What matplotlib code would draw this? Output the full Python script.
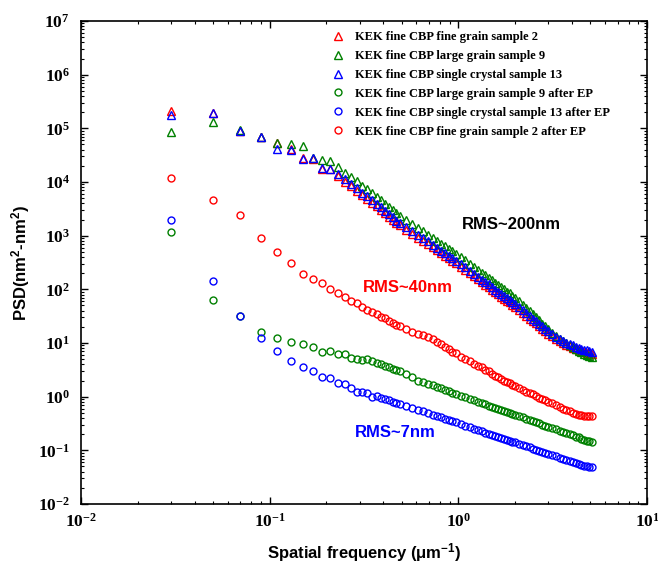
import math

import matplotlib
matplotlib.use("Agg")
import matplotlib.pyplot as plt
from matplotlib.ticker import LogLocator, FuncFormatter, NullFormatter

plt.rcParams["mathtext.fontset"] = "custom"
plt.rcParams["mathtext.bf"] = "Liberation Serif:bold"
plt.rcParams["mathtext.rm"] = "Liberation Serif"
plt.rcParams["mathtext.default"] = "regular"

# Spatial frequency (1/um), shared by all series
freq = [
    0.03, 0.05, 0.07, 0.09, 0.11, 0.13, 0.15, 0.17, 0.19, 0.21, 0.23, 0.25,
    0.27, 0.29, 0.31, 0.33, 0.35, 0.37, 0.39, 0.41, 0.43, 0.45, 0.47, 0.49,
    0.53, 0.57, 0.61, 0.65, 0.69, 0.73, 0.77, 0.81, 0.85, 0.89, 0.93, 0.97,
    1.03, 1.09, 1.15, 1.21, 1.27, 1.33, 1.39, 1.45, 1.51, 1.57, 1.63, 1.69,
    1.75, 1.81, 1.87, 1.93, 1.99,
    2.09, 2.19, 2.29, 2.39, 2.49, 2.59, 2.69, 2.79, 2.89, 2.99,
    3.14, 3.29, 3.44, 3.59, 3.74, 3.89, 4.04, 4.19, 4.34, 4.49, 4.64, 4.79,
    4.94, 5.09,
]

# PSD (nm^2-nm^2) before EP
fine_grain_2 = [
    214000, 195000, 90000, 69000, 52500, 41700, 28000, 26300, 17800, 17400, 13000, 10000,
    8400, 6900, 5700, 4800, 4100, 3500, 3050, 2600, 2250, 1950, 1700, 1560,
    1300, 1080, 920, 800, 700, 610, 540, 470, 425, 380, 340, 305,
    265, 232, 198, 175, 153, 136, 122, 111, 99, 89, 81, 73,
    67, 61, 57, 51, 47.5,
    41.5, 36.5, 32, 28.5, 25.5, 23.2, 20.7, 18.4, 16.8, 15.0,
    13.4, 12.0, 10.9, 10.0, 9.3, 8.7, 8.2, 7.8, 7.4, 7.1, 6.8, 6.6,
    6.4, 6.3,
]
large_grain_9 = [
    85000, 132000, 93000, 69000, 54000, 52000, 46000, 27500, 25700, 25000, 19000, 15000,
    12500, 10300, 8500, 7300, 6200, 5300, 4600, 3900, 3400, 3000, 2600, 2350,
    1950, 1620, 1380, 1200, 1050, 920, 810, 710, 635, 570, 510, 460,
    400, 345, 300, 263, 230, 204, 182, 166, 148, 132, 121, 109,
    100, 91, 84, 76, 70,
    60, 52, 45, 39.5, 34.5, 30.5, 26.5, 23, 20.5, 18,
    15.5, 13.5, 12.0, 10.8, 9.8, 9.0, 8.3, 7.7, 7.1, 6.7, 6.3, 6.0,
    5.7, 5.5,
]
single_crystal_13 = [
    178000, 190000, 89000, 69000, 42000, 40000, 27000, 27500, 18600, 17800, 14100, 11200,
    9300, 7600, 6300, 5400, 4600, 3900, 3400, 2900, 2500, 2200, 1900, 1740,
    1450, 1200, 1020, 890, 780, 680, 600, 525, 470, 420, 380, 340,
    295, 257, 220, 195, 170, 151, 135, 123, 110, 98, 90, 81,
    74, 68, 63, 57, 52.5,
    46, 40.5, 35.5, 31.6, 28.2, 25.7, 22.9, 20.4, 18.6, 16.6,
    14.8, 13.2, 12.0, 11.0, 10.2, 9.5, 9.0, 8.6, 8.2, 7.85, 7.5, 7.25,
    7.1, 6.9,
]

# PSD after EP
large_grain_9_ep = [
    1150, 63, 32, 16, 12.3, 10.5, 9.5, 8.5, 6.8, 7.1, 6.3, 6.3,
    5.2, 5.1, 4.8, 5.1, 4.7, 4.3, 4.0, 3.7, 3.5, 3.3, 3.1, 2.95,
    2.6, 2.35, 2.0, 1.85, 1.75, 1.62, 1.5, 1.42, 1.32, 1.26, 1.19, 1.12,
    1.05, 0.98, 0.91, 0.85, 0.80, 0.76, 0.72, 0.68, 0.65, 0.62, 0.59, 0.56,
    0.54, 0.51, 0.50, 0.48, 0.46,
    0.43, 0.41, 0.385, 0.36, 0.35, 0.33, 0.32, 0.30, 0.29, 0.275,
    0.26, 0.245, 0.23, 0.22, 0.21, 0.20, 0.19, 0.18, 0.174, 0.166, 0.158, 0.151,
    0.148, 0.145,
]
single_crystal_13_ep = [
    1950, 140, 32, 12.3, 7.2, 4.6, 3.6, 3.0, 2.3, 2.2, 1.8, 1.74,
    1.45, 1.22, 1.22, 1.15, 0.98, 1.05, 0.96, 0.91, 0.86, 0.81, 0.77, 0.73,
    0.67, 0.61, 0.57, 0.53, 0.49, 0.46, 0.43, 0.41, 0.38, 0.36, 0.345, 0.33,
    0.305, 0.285, 0.268, 0.252, 0.238, 0.226, 0.214, 0.204, 0.195, 0.186, 0.178, 0.170,
    0.163, 0.157, 0.151, 0.146, 0.140,
    0.132, 0.126, 0.119, 0.113, 0.108, 0.103, 0.098, 0.094, 0.090, 0.087,
    0.082, 0.078, 0.073, 0.070, 0.067, 0.064, 0.061, 0.058, 0.056, 0.054, 0.052, 0.050,
    0.049, 0.049,
]
fine_grain_2_ep = [
    12000, 4700, 2450, 890, 500, 316, 195, 158, 132, 100, 85, 72,
    60, 55, 46, 42, 38, 34, 31, 29, 26, 24, 22, 20.4,
    18.2, 16.2, 14.8, 13.8, 12.9, 11.7, 10.5, 9.5, 8.5, 7.8, 6.9, 6.5,
    5.6, 5.0, 4.6, 4.1, 3.7, 3.5, 3.2, 2.95, 2.7, 2.45, 2.3, 2.15,
    2.0, 1.86, 1.78, 1.66, 1.58,
    1.45, 1.35, 1.23, 1.15, 1.10, 1.02, 0.95, 0.91, 0.85, 0.81,
    0.76, 0.71, 0.65, 0.60, 0.56, 0.54, 0.50, 0.48, 0.46, 0.45, 0.44, 0.43,
    0.43, 0.43,
]

series = [
    (fine_grain_2, "^", "#ff0000", "KEK fine CBP fine grain sample 2"),
    (large_grain_9, "^", "#008000", "KEK fine CBP large grain sample 9"),
    (single_crystal_13, "^", "#0000ff", "KEK fine CBP single crystal sample 13"),
    (large_grain_9_ep, "o", "#008000", "KEK fine CBP large grain sample 9 after EP"),
    (single_crystal_13_ep, "o", "#0000ff", "KEK fine CBP single crystal sample 13 after EP"),
    (fine_grain_2_ep, "o", "#ff0000", "KEK fine CBP fine grain sample 2 after EP"),
]


def main():
    fig = plt.figure(figsize=(6.58, 5.72), dpi=100)
    ax = fig.add_axes([0.1231, 0.1189, 0.8602, 0.8444])

    for psd, marker, color, label in series:
        ms = 6 if marker == "^" else 5
        ax.plot(freq, psd, linestyle="none", marker=marker, markersize=ms,
                markerfacecolor="none", markeredgecolor=color,
                markeredgewidth=1.0, label=label)

    ax.set_xscale("log")
    ax.set_yscale("log")
    ax.set_xlim(1e-2, 1e1)
    ax.set_ylim(1e-2, 1e7)

    fmt = FuncFormatter(lambda v, p: r"$\mathbf{10^{%d}}$" % round(math.log10(v)))
    for axis in (ax.xaxis, ax.yaxis):
        axis.set_major_locator(LogLocator(base=10, numticks=20))
        axis.set_minor_locator(LogLocator(base=10, subs=range(2, 10), numticks=20))
        axis.set_major_formatter(fmt)
        axis.set_minor_formatter(NullFormatter())

    ax.tick_params(which="both", direction="in", top=True, right=True, labelsize=12.5)
    ax.tick_params(which="major", length=5, width=1.0)
    ax.tick_params(which="minor", length=2.5, width=0.8)
    ax.tick_params(axis="y", pad=8)
    ax.tick_params(axis="x", pad=6)
    for sp in ax.spines.values():
        sp.set_linewidth(1.2)

    lab = dict(fontfamily="Liberation Sans", fontweight="bold", fontsize=12)
    ax.set_xlabel(r"Spatial frequency ($\mu$m$^{-1}$)", labelpad=8, **lab)
    ax.set_ylabel(r"PSD(nm$^{2}$-nm$^{2}$)", labelpad=4, **lab)

    ax.text(0.760, 0.578, "RMS~200nm", transform=ax.transAxes, color="black",
            ha="center", va="center", **lab)
    ax.text(0.578, 0.449, "RMS~40nm", transform=ax.transAxes, color="#ff0000",
            ha="center", va="center", **lab)
    ax.text(0.555, 0.147, "RMS~7nm", transform=ax.transAxes, color="#0000ff",
            ha="center", va="center", **lab)

    ax.legend(loc="upper left", bbox_to_anchor=(0.443, 0.979), frameon=False,
              borderpad=0, handlelength=1.0, handletextpad=0.86,
              labelspacing=0.55, borderaxespad=0,
              prop={"family": "Liberation Serif", "weight": "bold", "size": 9})

    fig.savefig("out.png", dpi=100)
    plt.close(fig)


if __name__ == "__main__":
    main()
